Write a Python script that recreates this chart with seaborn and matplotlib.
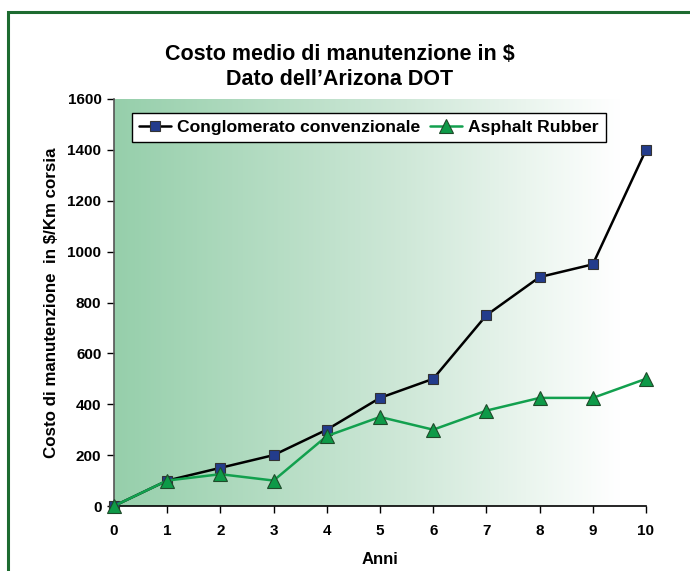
import numpy as np
import pandas as pd
import matplotlib
matplotlib.use("Agg")
import matplotlib.pyplot as plt
import seaborn as sns
from matplotlib.colors import LinearSegmentedColormap
from matplotlib.patches import Rectangle

# --- Data ---
anni = [0, 1, 2, 3, 4, 5, 6, 7, 8, 9, 10]
conglomerato = [0, 100, 150, 200, 300, 425, 500, 750, 900, 950, 1400]
asphalt_rubber = [0, 100, 125, 100, 275, 350, 300, 375, 425, 425, 500]
y_ticks = [0, 200, 400, 600, 800, 1000, 1200, 1400, 1600]

df = pd.DataFrame({
    "Anni": anni * 2,
    "Costo": conglomerato + asphalt_rubber,
    "Serie": ["Conglomerato convenzionale"] * len(anni) + ["Asphalt Rubber"] * len(anni),
})

sns.set_theme(style="white")
plt.rcParams["font.family"] = ["Liberation Sans", "DejaVu Sans"]
plt.rcParams["font.weight"] = "bold"
plt.rcParams["text.color"] = "black"
plt.rcParams["axes.labelcolor"] = "black"
plt.rcParams["xtick.color"] = "black"
plt.rcParams["ytick.color"] = "black"

fig = plt.figure(figsize=(6.9, 5.71), dpi=100)
W, H = 690, 571
ax = fig.add_axes([114 / W, 1 - 506 / H, (646 - 114) / W, (506 - 99) / H])

# green frame round the chart
fig.patches.append(Rectangle((8 / W, -0.05), 1.1, 1 - 12 / H + 0.05,
                             transform=fig.transFigure, fill=False,
                             edgecolor="#1d6b30", linewidth=2.2, zorder=0))

# gradient background inside the plot area
cmap = LinearSegmentedColormap.from_list(
    "bg", [(0, "#96cfab"), (0.55, "#cfe8d8"), (0.95, "#ffffff"), (1, "#ffffff")])
grad = np.linspace(0, 1, 256).reshape(1, -1)
ax.imshow(grad, cmap=cmap, aspect="auto", extent=[0, 10, 0, 1600], zorder=0)

palette = {"Conglomerato convenzionale": "#000000", "Asphalt Rubber": "#12a04e"}
sns.lineplot(data=df, x="Anni", y="Costo", hue="Serie", style="Serie",
             palette=palette, markers={"Conglomerato convenzionale": "s", "Asphalt Rubber": "^"},
             dashes=False, linewidth=1.8, ax=ax, zorder=3)

# marker colours
for line in ax.get_lines():
    if line.get_marker() == "s":
        line.set_markerfacecolor("#233c8c")
        line.set_markeredgecolor("#333333")
        line.set_markersize(7.5)
    elif line.get_marker() == "^":
        line.set_markerfacecolor("#0e9a48")
        line.set_markeredgecolor("#1f4a2a")
        line.set_markersize(10)
    line.set_markeredgewidth(0.8)
    line.set_clip_on(False)

ax.set_xlim(0, 10)
ax.set_ylim(0, 1600)
ax.set_xticks(anni)
ax.set_yticks(y_ticks)
ax.tick_params(axis="both", direction="out", length=5, width=1, labelsize=11,
               bottom=True, left=True, color="black")
ax.tick_params(axis="x", pad=8)
ax.tick_params(axis="y", pad=4)
for lbl in ax.get_xticklabels() + ax.get_yticklabels():
    lbl.set_fontweight("bold")

for s in ["top", "right"]:
    ax.spines[s].set_visible(False)
ax.spines["left"].set_color("#555555")
ax.spines["bottom"].set_color("black")
ax.spines["left"].set_linewidth(1.2)
ax.spines["bottom"].set_linewidth(1.2)

ax.set_xlabel("Anni", fontsize=12, fontweight="bold", labelpad=10)
ax.set_ylabel("Costo di manutenzione  in $/Km corsia", fontsize=12.2,
              fontweight="bold", labelpad=6)
fig.text(340 / W, 1 - 67 / H, "Costo medio di manutenzione in $\nDato dell\u2019Arizona DOT",
         ha="center", va="center", fontsize=15.5, fontweight="bold", linespacing=1.2)

handles, labels = ax.get_legend_handles_labels()
leg = ax.legend(handles, labels, loc="upper left", bbox_to_anchor=(0.034, 0.966),
                borderaxespad=0, ncol=2, frameon=True, fancybox=False, fontsize=12.6,
                handlelength=1.8, handletextpad=0.35, columnspacing=0.6,
                borderpad=0.4)
leg.get_frame().set_edgecolor("black")
leg.get_frame().set_linewidth(1.0)
leg.get_frame().set_facecolor("white")
leg.get_frame().set_alpha(1)
for t in leg.get_texts():
    t.set_fontweight("bold")

fig.savefig("out.png", dpi=100)
